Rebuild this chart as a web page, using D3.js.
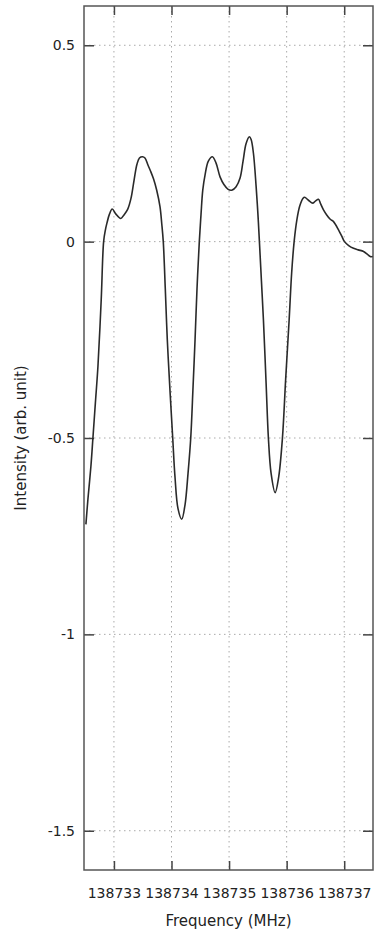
<!DOCTYPE html>
<html>
<head>
<meta charset="utf-8">
<script src="https://cdn.jsdelivr.net/npm/d3@7"></script>
<style>
body{margin:0;background:#fff;}
text{font-family:"DejaVu Sans",Verdana,sans-serif;fill:#222;}
</style>
</head>
<body>
<script>
// data
const freq=[138732.513,138732.548,138732.600,138732.635,138732.678,138732.722,138732.779,138732.821,138732.852,
138732.878,138732.922,138732.970,138733.035,138733.117,138733.174,138733.238,138733.296,138733.348,138733.400,
138733.443,138733.496,138733.539,138733.591,138733.635,138733.687,138733.743,138733.800,138733.831,138733.857,
138733.892,138733.927,138733.974,138734.021,138734.061,138734.113,138734.177,138734.235,138734.287,138734.334,
138734.374,138734.409,138734.443,138734.483,138734.513,138734.543,138734.583,138734.640,138734.710,138734.774,
138734.843,138734.913,138734.983,138735.047,138735.122,138735.191,138735.243,138735.296,138735.353,138735.383,
138735.423,138735.470,138735.501,138735.527,138735.562,138735.597,138735.643,138735.683,138735.730,138735.800,
138735.861,138735.927,138735.983,138736.043,138736.087,138736.130,138736.177,138736.226,138736.282,138736.313,
138736.374,138736.456,138736.504,138736.553,138736.591,138736.640,138736.696,138736.757,138736.814,138736.901,
138736.957,138737.005,138737.078,138737.162,138737.243,138737.336,138737.400,138737.452,138737.495];
const intensity=[-0.72,-0.656,-0.572,-0.50,-0.41,-0.318,-0.148,0.0,0.03,
0.047,0.07,0.083,0.07,0.059,0.068,0.082,0.11,0.155,0.197,
0.213,0.216,0.213,0.195,0.18,0.16,0.131,0.089,0.045,0.0,
-0.12,-0.25,-0.38,-0.5,-0.6,-0.68,-0.707,-0.67,-0.59,-0.5,
-0.37,-0.25,-0.12,0.0,0.07,0.131,0.17,0.205,0.216,0.2,
0.165,0.145,0.133,0.131,0.14,0.162,0.205,0.25,0.267,0.26,
0.225,0.14,0.07,0.0,-0.1,-0.2,-0.36,-0.5,-0.59,-0.639,
-0.6,-0.5,-0.35,-0.2,-0.08,0.0,0.055,0.09,0.11,0.113,
0.106,0.098,0.104,0.108,0.096,0.081,0.068,0.057,0.051,0.03,
0.014,0.0,-0.01,-0.017,-0.021,-0.025,-0.032,-0.038,-0.038];
const xTicks=[138733,138734,138735,138736,138737];
const yTicks=[0.5,0,-0.5,-1,-1.5];

const w=374,h=934;
const pL=84,pR=373,pT=6,pB=870;

const svg=d3.select("body").append("svg")
  .attr("width",w).attr("height",h);

const x=d3.scaleLinear().domain([138732.48,138737.5]).range([pL,pR]);
const y=d3.scaleLinear().domain([-1.6,0.6]).range([pB,pT]);

//grid
svg.append("g").selectAll("line").data(xTicks).enter().append("line")
  .attr("x1",d=>x(d)).attr("x2",d=>x(d)).attr("y1",pT).attr("y2",pB)
  .attr("stroke","#aaa").attr("stroke-width",1).attr("stroke-dasharray","1.5,3.5");
svg.append("g").selectAll("line").data(yTicks).enter().append("line")
  .attr("x1",pL).attr("x2",pR).attr("y1",d=>y(d)).attr("y2",d=>y(d))
  .attr("stroke","#aaa").attr("stroke-width",1).attr("stroke-dasharray","1.5,3.5");

//axes, ticks pointing inward
const fmt=d=>d===0?"0":String(d);
const gx=svg.append("g").attr("transform","translate(0,"+pB+")")
  .call(d3.axisBottom(x).tickValues(xTicks).tickSizeInner(-9).tickSizeOuter(0).tickPadding(18).tickFormat(d3.format("d")));
const gxt=svg.append("g").attr("transform","translate(0,"+pT+")")
  .call(d3.axisTop(x).tickValues(xTicks).tickSizeInner(-9).tickSizeOuter(0).tickFormat(""));
const gy=svg.append("g").attr("transform","translate("+pL+",0)")
  .call(d3.axisLeft(y).tickValues(yTicks).tickSizeInner(-10).tickSizeOuter(0).tickPadding(9).tickFormat(fmt));
const gyr=svg.append("g").attr("transform","translate("+pR+",0)")
  .call(d3.axisRight(y).tickValues(yTicks).tickSizeInner(-10).tickSizeOuter(0).tickFormat(""));

[gx,gxt,gy,gyr].forEach(g=>{
  g.select(".domain").remove();
  g.selectAll(".tick line").attr("stroke","#444").attr("stroke-width",1.5);
  g.selectAll("text").style("font-size","14px").attr("fill","#222");
});

//frame
svg.append("rect").attr("x",pL).attr("y",pT).attr("width",pR-pL).attr("height",pB-pT)
  .attr("fill","none").attr("stroke","#555").attr("stroke-width",1.5);

//curve
const pts=freq.map((f,i)=>[f,intensity[i]]);
svg.append("path").datum(pts)
  .attr("d",d3.line().x(d=>x(d[0])).y(d=>y(d[1])).curve(d3.curveCatmullRom))
  .attr("fill","none").attr("stroke","#2a2a2a").attr("stroke-width",1.6);

//labels
svg.append("text").attr("x",(pL+pR)/2).attr("y",926)
  .attr("text-anchor","middle").style("font-size","15px").text("Frequency (MHz)");
svg.append("text").attr("transform","translate(26,"+(pT+pB)/2+") rotate(-90)")
  .attr("text-anchor","middle").style("font-size","15px").text("Intensity (arb. unit)");
</script>
</body>
</html>
